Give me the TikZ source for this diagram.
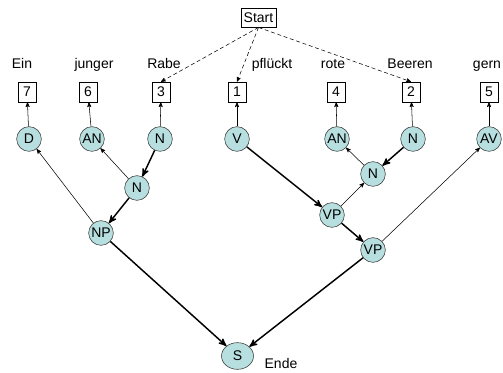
\documentclass[tikz,border=0pt]{standalone}
\usepackage{fontspec}
\setmainfont{Liberation Sans}
\usepackage{tikz}
\usetikzlibrary{arrows,shapes}
\definecolor{catfill}{RGB}{183,223,223}
\tikzstyle{catnode}=[circle,draw=black!80,fill=catfill,minimum size=18.5pt,inner sep=0pt]
\tikzstyle{rootnode}=[ellipse,draw=black!80,fill=catfill,minimum width=24pt,
  			  minimum height=20pt,inner sep=0pt]
\tikzstyle{wordbox}=[rectangle,draw=black,thin,minimum width=13.5pt,minimum height=15pt,inner sep=0pt]
\tikzstyle{wordlabel}=[anchor=base,inner sep=0pt]
\tikzstyle{weak}=[->,line width=.4pt]
\tikzstyle{strong}=[->,line width=1.1pt]
\tikzstyle{startedge}=[->,line width=.4pt,dash pattern=on 3pt off 2pt]

\begin{document}
\begin{tikzpicture}[>=stealth',x=0.75pt,y=-0.75pt,
                    font=\fontsize{10.5}{12}\selectfont]
	\useasboundingbox (0,0) rectangle (503,373);

	\node[rectangle,draw=black,thin,minimum width=26.5pt,minimum height=14.5pt,inner sep=1pt] (start) at (258.5,17.5) {Start};

	% words
	\node[wordlabel] (w1) at (22,69) {Ein};
	\node[wordlabel] (w2) at (94,69) {junger};
	\node[wordlabel] (w3) at (164,69) {Rabe};
	\node[wordlabel] (w4) at (272,69) {pfl\"uckt};
	\node[wordlabel] (w5) at (333,69) {rote};
	\node[wordlabel] (w6) at (410,69) {Beeren};
	\node[wordlabel] (w7) at (487,69) {gern};

	% order of the words
	\node[wordbox] (b7) at (27,92) {7};
	\node[wordbox] (b6) at (88,92) {6};
	\node[wordbox] (b3) at (161,92) {3};
	\node[wordbox] (b1) at (237,92) {1};
	\node[wordbox] (b4) at (336,92) {4};
	\node[wordbox] (b2) at (411,92) {2};
	\node[wordbox] (b5) at (489,92) {5};

	% categories
	\node[catnode] (D) at (29,139) {D};
	\node[catnode] (AN1) at (92,139) {AN};
	\node[catnode] (N1) at (160,139) {N};
	\node[catnode] (V) at (237,139) {V};
	\node[catnode] (AN2) at (337,139) {AN};
	\node[catnode] (N2) at (413,139) {N};
	\node[catnode] (AV) at (489,139) {AV};
	\node[catnode] (N3) at (137,188) {N};
	\node[catnode] (NP) at (101,233) {NP};
	\node[catnode] (N4) at (373,174) {N};
	\node[catnode] (VP1) at (332,215) {VP};
	\node[catnode] (VP2) at (373,250) {VP};
	\node[rootnode] (S) at (237.5,356) {S};
	\node[wordlabel] (ende) at (281,369) {Ende};

  \path [startedge]
        (start.south) edge (b3.north)
        (start.south) edge (b1.north)
        (start.south) edge (b2.north);
  \path [weak]
        (D) edge (b7)
        (AN1) edge (b6)
        (N1) edge (b3)
        (V) edge (b1)
        (AN2) edge (b4)
        (N2) edge (b2)
        (AV) edge (b5);
  \path [weak]
        (N3) edge (AN1)
        (NP) edge (D)
        (N4) edge (AN2)
        (VP1) edge (N4)
        (VP2) edge (AV);
  \path [strong]
        (N1) edge (N3)
        (N3) edge (NP)
        (NP) edge (S)
        (V) edge (VP1)
        (N2) edge (N4)
        (VP1) edge (VP2)
        (VP2) edge (S);

\end{tikzpicture}
\end{document}
